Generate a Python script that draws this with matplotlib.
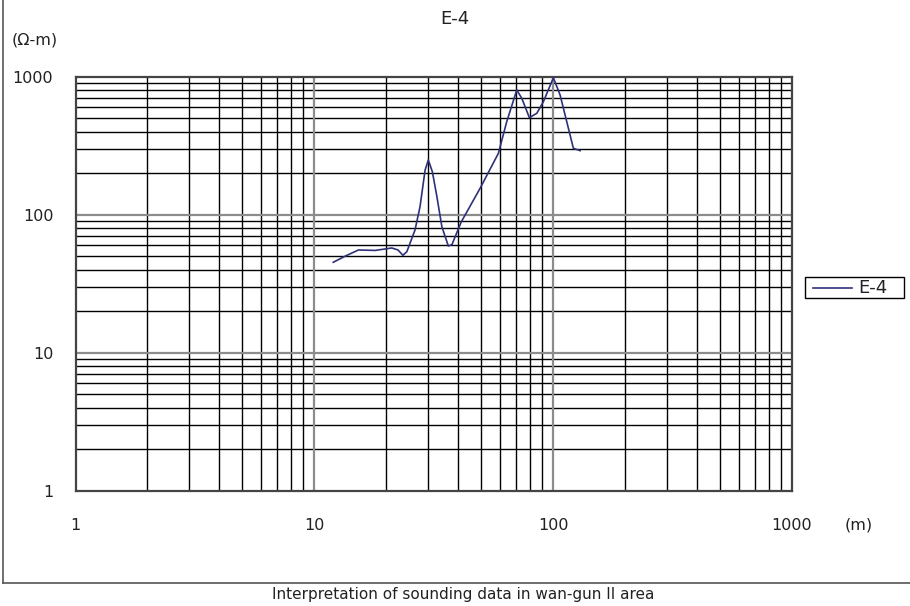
import numpy as np
import matplotlib.pyplot as plt
from matplotlib.lines import Line2D
from matplotlib.patches import Rectangle

# sounding curve E-4 (AB/2 in m, apparent resistivity in ohm-m)
spacing = [12.0, 13.5, 15.3, 18.0, 21.1, 22.4, 23.5, 24.4, 26.4, 27.7,
           29.1, 30.0, 31.2, 32.6, 34.2, 36.4, 37.7, 41.2, 49.4, 59.0,
           63.9, 70.4, 73.9, 79.5, 85.4, 91.0, 100.2, 106.9, 114.0, 121.5, 129.6]
resistivity = [45.2, 50.2, 55.5, 55.1, 57.4, 55.5, 50.8, 54.0, 77.5, 114.3,
               211, 249, 205, 135, 81.8, 59.3, 60.8, 88.5, 155, 279,
               472, 801, 697, 505, 543, 659, 983, 737, 472, 303, 291]

x_ticks = [1, 10, 100, 1000]
x_labels = ['1', '10', '100', '1000']
y_ticks = [1, 10, 100, 1000]
y_labels = ['1', '10', '100', '1000']

W, H = 910, 606

def fx(px):
    return px / W

def fy(py):
    return 1 - py / H

plt.rcParams['font.family'] = 'DejaVu Sans'

fig = plt.figure(figsize=(9.1, 6.06), dpi=100)
ax = fig.add_axes([fx(75.5), fy(490.7), 716.5 / W, 414 / H])

ax.set_xscale('log')
ax.set_yscale('log')
ax.set_xlim(1, 1000)
ax.set_ylim(1, 1000)

# gridlines: decades grey, in-between black
major_color = '#8c8c8c'
for d in [1, 10, 100]:
    for k in range(2, 10):
        ax.axvline(d * k, color='black', lw=1.0, zorder=1)
        ax.axhline(d * k, color='black', lw=1.0, zorder=1)
for v in [10, 100]:
    ax.axvline(v, color=major_color, lw=1.6, zorder=1.5)
    ax.axhline(v, color=major_color, lw=1.6, zorder=1.5)

for s in ax.spines.values():
    s.set_color('#444444')
    s.set_linewidth(1.6)

line_color = '#2e3178'
ax.plot(spacing, resistivity, color=line_color, lw=1.2, zorder=3)

ax.set_xticks(x_ticks)
ax.set_xticklabels(x_labels)
ax.set_yticks(y_ticks)
ax.set_yticklabels(y_labels)
ax.minorticks_off()
ax.tick_params(axis='both', length=0, labelsize=11.5, colors='#222222')
ax.tick_params(axis='x', pad=20)
ax.tick_params(axis='y', pad=16)

fig.text(fx(455), fy(19), 'E-4', ha='center', va='center', fontsize=13, color='#222222')
fig.text(fx(12), fy(40), '(\u03a9-m)', ha='left', va='center', fontsize=11.5, color='#222222')
fig.text(fx(845), fy(525), '(m)', ha='left', va='center', fontsize=11.5, color='#222222')
fig.text(fx(463), fy(595), 'Interpretation of sounding data in wan-gun II area',
         ha='center', va='center', fontsize=11, color='#222222')

# legend box, drawn by hand to get the spreadsheet proportions
fig.add_artist(Rectangle((fx(805), fy(298)), 99 / W, 21 / H, transform=fig.transFigure,
                         facecolor='white', edgecolor='black', lw=1.0))
fig.add_artist(Line2D([fx(813), fx(852)], [fy(287.5), fy(287.5)], color=line_color, lw=1.2))
fig.text(fx(858), fy(287.5), 'E-4', ha='left', va='center', fontsize=13, color='#222222')

# sheet borders from the spreadsheet screenshot
fig.add_artist(Line2D([fx(3), fx(3)], [fy(583), 1], color='#555555', lw=1.2))
fig.add_artist(Line2D([fx(3), 1], [fy(583), fy(583)], color='#555555', lw=1.2))

fig.savefig('out.png', dpi=100)
